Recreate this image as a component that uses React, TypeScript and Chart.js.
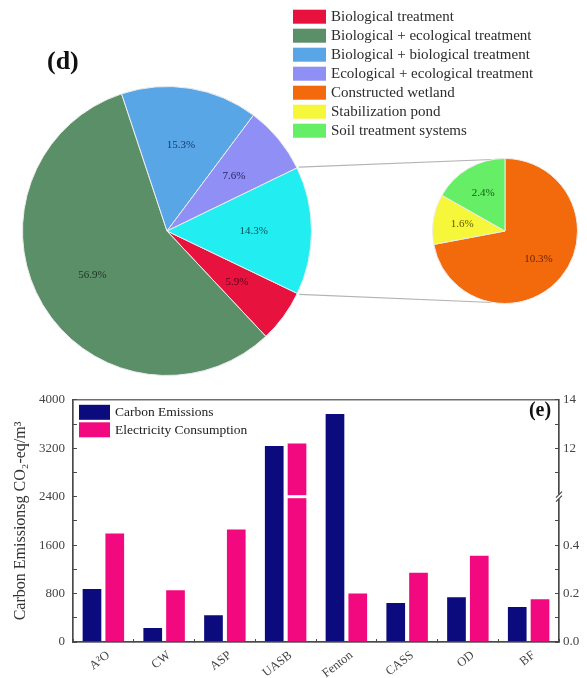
import React, { useEffect, useRef } from 'react';
import { Chart, registerables, LinearScale } from 'chart.js';

const FONT = "'Liberation Serif', 'Times New Roman', serif";

// ---------- (d) pie data ----------
const mainLabels = [
  'Biological treatment',
  'Biological + ecological treatment',
  'Biological + biological treatment',
  'Ecological + ecological treatment',
  'Ecological treatment',
];
const mainValues = [5.9, 56.9, 15.3, 7.6, 14.3];
const mainColors = ['#e8123f', '#5a8f68', '#58a6e6', '#8f8ff5', '#22eef2'];
const mainTextColors = ['#5a0616', '#1c3522', '#173a6e', '#26265e', '#0c4f52'];

const subLabels = ['Constructed wetland', 'Stabilization pond', 'Soil treatment systems'];
const subValues = [10.3, 1.6, 2.4];
const subColors = ['#f26a0c', '#f6f63a', '#66ee66'];
const subTextColors = ['#6e2400', '#5e5e00', '#145e14'];

const legendNames = [
  'Biological treatment',
  'Biological + ecological treatment',
  'Biological + biological treatment',
  'Ecological + ecological treatment',
  'Constructed wetland',
  'Stabilization pond',
  'Soil treatment systems',
];
const legendColors = ['#e8123f', '#5a8f68', '#58a6e6', '#8f8ff5', '#f26a0c', '#f6f63a', '#66ee66'];

// ---------- (e) bar data ----------
const categories = ['A²O', 'CW', 'ASP', 'UASB', 'Fenton', 'CASS', 'OD', 'BF'];
const carbonEmissions = [877, 232, 442, 3237, 3765, 645, 737, 576];
const electricityConsumption = [0.448, 0.214, 0.465, 12.2, 0.2, 0.286, 0.356, 0.176];
const seriesNames = ['Carbon Emissions', 'Electricity Consumption'];
const leftTickStep = 400;
const leftTickLabelStep = 800;
const rightTickValues = [0, 0.1, 0.2, 0.3, 0.4, 0.5, 11, 12, 13, 14];
const rightTickLabels = ['0.0', '', '0.2', '', '0.4', '', '', '12', '', '14'];
const yTitle = 'Carbon Emissionsg CO\u2082-eq/m\u00B3';

// broken right axis: 0..0.6 (3 units), 10..14 (2 units)
const BREAK_LOW = 0.6;
const BREAK_HIGH = 10;
const LOW_STEP = 0.2;
const HIGH_STEP = 2;
const TOTAL_UNITS = 5;

const NAVY = '#0b0b7d';
const PINK = '#f2087f';
const AXIS = '#4a4a4a';

// layout constants
const SUB_CX = 505;
const SUB_CY = 231;
const SUB_SIZE = 146;

class BrokenScale extends LinearScale {
  static id = 'broken';
  static defaults = {};
  buildTicks() {
    return rightTickValues.map((v) => ({ value: v }));
  }
  toUnits(v: number) {
    if (v <= BREAK_LOW) return v / LOW_STEP;
    return BREAK_LOW / LOW_STEP + (v - BREAK_HIGH) / HIGH_STEP;
  }
  getPixelForValue(v: number) {
    return this.getPixelForDecimal(this.toUnits(v) / TOTAL_UNITS);
  }
  getValueForPixel(p: number) {
    const u = this.getDecimalForPixel(p) * TOTAL_UNITS;
    const lowUnits = BREAK_LOW / LOW_STEP;
    if (u <= lowUnits) return u * LOW_STEP;
    return BREAK_HIGH + (u - lowUnits) * HIGH_STEP;
  }
}

Chart.register(...registerables, BrokenScale);
Chart.defaults.font.family = FONT;
Chart.defaults.color = '#444';

const pieLabelPlugin = (values: number[], colors: string[]) => ({
  id: 'pieLabels',
  afterDatasetsDraw(chart: any) {
    const ctx = chart.ctx;
    const meta = chart.getDatasetMeta(0);
    ctx.save();
    ctx.font = `11px ${FONT}`;
    ctx.textAlign = 'center';
    ctx.textBaseline = 'middle';
    meta.data.forEach((arc: any, i: number) => {
      const { x, y, startAngle, endAngle, outerRadius } = arc.getProps(
        ['x', 'y', 'startAngle', 'endAngle', 'outerRadius'],
        true
      );
      const mid = (startAngle + endAngle) / 2;
      const r = outerRadius * 0.6;
      ctx.fillStyle = colors[i];
      ctx.fillText(`${values[i].toFixed(1)}%`, x + Math.cos(mid) * r, y + Math.sin(mid) * r);
    });
    ctx.restore();
  },
});

const mainDecorPlugin = {
  id: 'mainDecor',
  afterDraw(chart: any) {
    const ctx = chart.ctx;
    const meta = chart.getDatasetMeta(0);
    const arc = meta.data[4];
    const { x, y, startAngle, endAngle, outerRadius } = arc.getProps(
      ['x', 'y', 'startAngle', 'endAngle', 'outerRadius'],
      true
    );
    const subR = SUB_SIZE / 2 - 1;
    ctx.save();
    // connector lines
    ctx.strokeStyle = '#b4b4b4';
    ctx.lineWidth = 1.2;
    ctx.beginPath();
    ctx.moveTo(x + Math.cos(startAngle) * (outerRadius + 2), y + Math.sin(startAngle) * (outerRadius + 2));
    ctx.lineTo(SUB_CX, SUB_CY - subR);
    ctx.moveTo(x + Math.cos(endAngle) * (outerRadius + 2), y + Math.sin(endAngle) * (outerRadius + 2));
    ctx.lineTo(SUB_CX, SUB_CY + subR);
    ctx.stroke();

    // (d)
    ctx.fillStyle = '#111';
    ctx.font = `bold 26px ${FONT}`;
    ctx.textAlign = 'left';
    ctx.textBaseline = 'middle';
    ctx.fillText('(d)', 47, 62);

    // legend
    ctx.font = `15px ${FONT}`;
    legendNames.forEach((name, i) => {
      const cy = 16.7 + i * 19;
      ctx.fillStyle = legendColors[i];
      ctx.fillRect(293, cy - 7, 33, 14);
      ctx.fillStyle = '#2c2c2c';
      ctx.fillText(name, 331, cy + 0.5);
    });
    ctx.restore();
  },
};

const barDecorPlugin = {
  id: 'barDecor',
  afterDatasetsDraw(chart: any) {
    const ctx = chart.ctx;
    const y2 = chart.scales.y2;
    const breakPx = y2.getPixelForValue(BREAK_LOW);
    const meta = chart.getDatasetMeta(1);
    ctx.save();
    ctx.fillStyle = '#ffffff';
    meta.data.forEach((bar: any, i: number) => {
      if (electricityConsumption[i] > BREAK_LOW) {
        const { x, width } = bar.getProps(['x', 'width'], true);
        ctx.fillRect(x - width / 2 - 1, breakPx - 1.5, width + 2, 3);
      }
    });
    ctx.restore();
  },
  afterDraw(chart: any) {
    const ctx = chart.ctx;
    const a = chart.chartArea;
    const y2 = chart.scales.y2;
    const breakPx = y2.getPixelForValue(BREAK_LOW);
    ctx.save();
    // frame
    ctx.strokeStyle = AXIS;
    ctx.lineWidth = 1.2;
    ctx.strokeRect(a.left, a.top, a.right - a.left, a.bottom - a.top);
    // axis break marks
    ctx.fillStyle = '#fff';
    ctx.fillRect(a.right - 2, breakPx - 2, 4, 4);
    ctx.beginPath();
    ctx.moveTo(a.right - 3, breakPx + 1);
    ctx.lineTo(a.right + 3, breakPx - 5);
    ctx.moveTo(a.right - 3, breakPx + 5);
    ctx.lineTo(a.right + 3, breakPx - 1);
    ctx.stroke();
    // (e)
    ctx.fillStyle = '#111';
    ctx.font = `bold 20px ${FONT}`;
    ctx.textAlign = 'center';
    ctx.textBaseline = 'middle';
    ctx.fillText('(e)', 540, 31);
    // legend
    const colors = [NAVY, PINK];
    ctx.textAlign = 'left';
    ctx.font = `13.5px ${FONT}`;
    seriesNames.forEach((name, i) => {
      const top = a.top + 5 + i * 17.5;
      ctx.fillStyle = colors[i];
      ctx.fillRect(a.left + 6, top, 31, 15);
      ctx.fillStyle = '#222';
      ctx.fillText(name, a.left + 42, top + 8);
    });
    ctx.restore();
  },
};

export default function App() {
  const topRef = useRef<HTMLCanvasElement>(null);
  const subRef = useRef<HTMLCanvasElement>(null);
  const barRef = useRef<HTMLCanvasElement>(null);

  useEffect(() => {
    document.body.style.margin = '0';
    const charts: Chart[] = [];

    charts.push(
      new Chart(topRef.current as HTMLCanvasElement, {
        type: 'pie',
        data: {
          labels: mainLabels,
          datasets: [
            {
              data: mainValues,
              backgroundColor: mainColors,
              borderColor: '#ececec',
              borderWidth: 1,
              rotation: 115.6,
            } as any,
          ],
        },
        options: {
          responsive: false,
          animation: false,
          events: [],
          layout: { padding: { left: 22, right: 275, top: 86, bottom: 4 } },
          plugins: { legend: { display: false }, tooltip: { enabled: false } },
        },
        plugins: [pieLabelPlugin(mainValues, mainTextColors), mainDecorPlugin],
      })
    );

    charts.push(
      new Chart(subRef.current as HTMLCanvasElement, {
        type: 'pie',
        data: {
          labels: subLabels,
          datasets: [
            {
              data: subValues,
              backgroundColor: subColors,
              borderColor: '#ececec',
              borderWidth: 1,
              rotation: 0,
            } as any,
          ],
        },
        options: {
          responsive: false,
          animation: false,
          events: [],
          layout: { padding: 0 },
          plugins: { legend: { display: false }, tooltip: { enabled: false } },
        },
        plugins: [pieLabelPlugin(subValues, subTextColors)],
      })
    );

    const axisBorder = { display: true, color: AXIS, width: 1.2 };
    charts.push(
      new Chart(barRef.current as HTMLCanvasElement, {
        type: 'bar',
        data: {
          labels: categories,
          datasets: [
            {
              label: seriesNames[0],
              data: carbonEmissions,
              backgroundColor: NAVY,
              yAxisID: 'y',
              categoryPercentage: 0.75,
              barPercentage: 0.82,
            },
            {
              label: seriesNames[1],
              data: electricityConsumption,
              backgroundColor: PINK,
              yAxisID: 'y2',
              categoryPercentage: 0.75,
              barPercentage: 0.82,
            },
          ],
        },
        options: {
          responsive: false,
          animation: false,
          events: [],
          layout: { padding: { top: 13, left: 0, right: 0, bottom: 0 } },
          plugins: { legend: { display: false }, tooltip: { enabled: false } },
          scales: {
            x: {
              type: 'category',
              grid: { drawOnChartArea: false, offset: true, tickLength: -3, color: AXIS },
              border: axisBorder,
              ticks: {
                font: { size: 12.5, family: FONT },
                color: '#444',
                minRotation: 38,
                maxRotation: 38,
                padding: 9,
                labelOffset: 5,
                autoSkip: false,
              },
              afterFit: (s: any) => {
                s.height = 36;
              },
            },
            y: {
              type: 'linear',
              position: 'left',
              min: 0,
              max: 4000,
              ticks: {
                stepSize: leftTickStep,
                autoSkip: false,
                callback: (v: any) => (Number(v) % leftTickLabelStep === 0 ? String(v) : ''),
                font: { size: 13, family: FONT },
                color: '#444',
                padding: 12,
              },
              grid: { drawOnChartArea: false, tickLength: -4, color: AXIS },
              border: axisBorder,
              title: {
                display: true,
                text: yTitle,
                font: { size: 16, family: FONT },
                color: '#333',
                padding: { top: 11, bottom: 0 },
              },
              afterFit: (s: any) => {
                s.width = 73;
              },
            },
            y2: {
              type: 'broken',
              position: 'right',
              min: 0,
              max: 14,
              ticks: {
                autoSkip: false,
                callback: (v: any) => {
                  const i = rightTickValues.findIndex((t) => Math.abs(t - Number(v)) < 1e-9);
                  return i >= 0 ? rightTickLabels[i] : '';
                },
                font: { size: 13, family: FONT },
                color: '#444',
                padding: 8,
              },
              grid: { drawOnChartArea: false, tickLength: -4, color: AXIS },
              border: axisBorder,
              afterFit: (s: any) => {
                s.width = 28;
              },
            } as any,
          },
        },
        plugins: [barDecorPlugin],
      })
    );

    return () => charts.forEach((c) => c.destroy());
  }, []);

  return (
    <div style={{ position: 'relative', width: 587, height: 678, overflow: 'hidden', background: '#fff' }}>
      <canvas ref={topRef} width={587} height={380} style={{ position: 'absolute', left: 0, top: 0 }} />
      <canvas
        ref={subRef}
        width={SUB_SIZE}
        height={SUB_SIZE}
        style={{ position: 'absolute', left: SUB_CX - SUB_SIZE / 2, top: SUB_CY - SUB_SIZE / 2 }}
      />
      <canvas ref={barRef} width={587} height={298} style={{ position: 'absolute', left: 0, top: 380 }} />
    </div>
  );
}
